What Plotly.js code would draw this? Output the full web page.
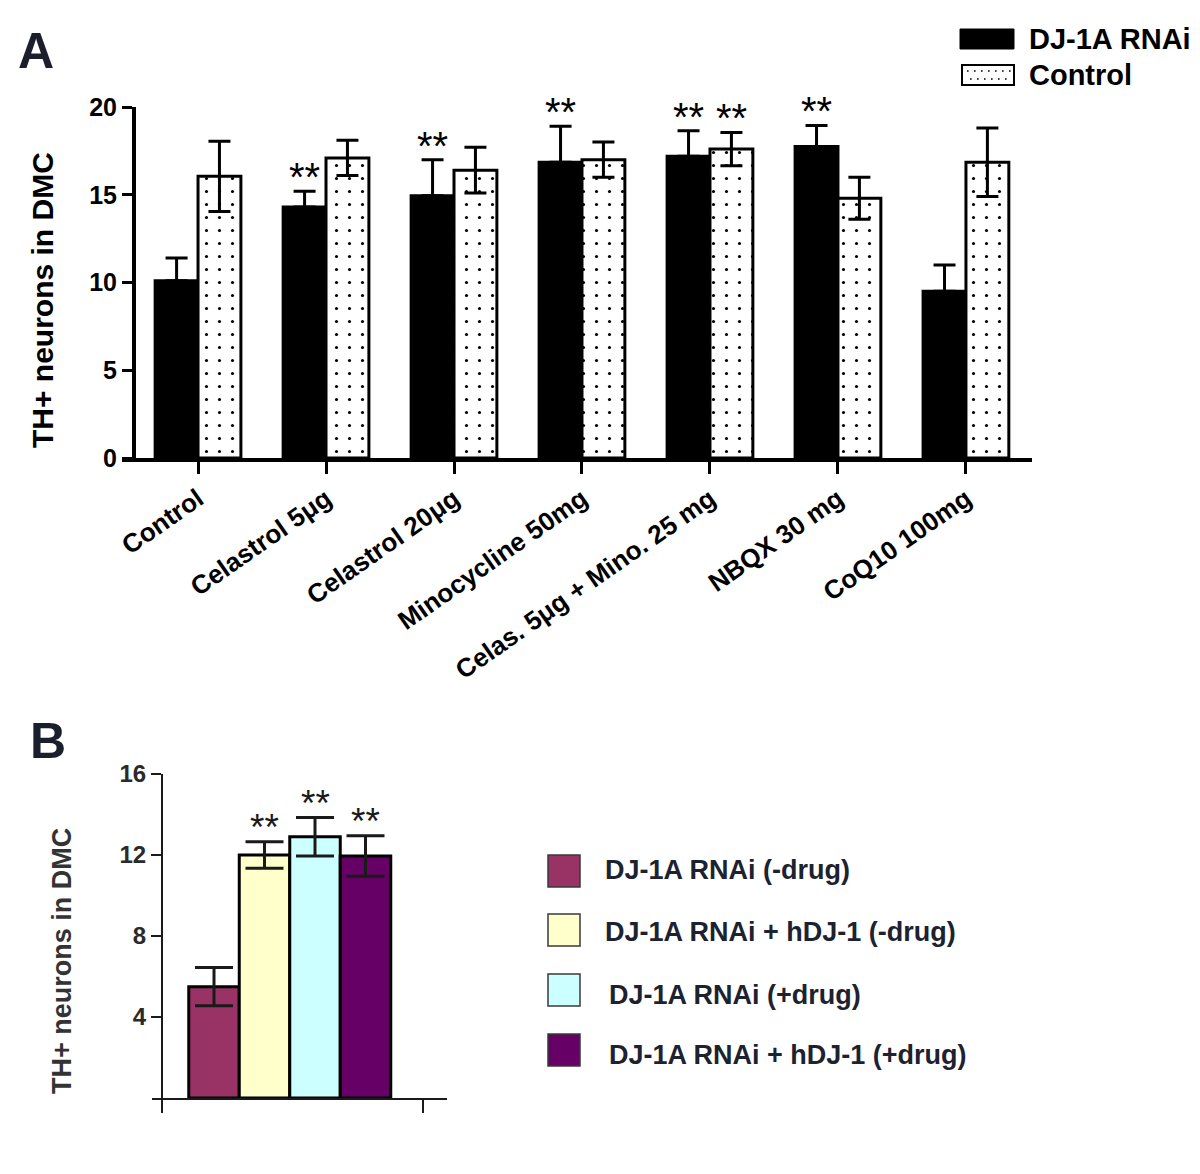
<!DOCTYPE html>
<html>
<head>
<meta charset="utf-8">
<script src="https://cdn.plot.ly/plotly-3.0.1.min.js"></script>
<style>
  html, body { margin: 0; padding: 0; background: #ffffff; }
  #chart { width: 1200px; height: 1174px; }
</style>
</head>
<body>
<div id="chart"></div>
<script>
// ---------- Panel A data ----------
const categoriesA = ['Control', 'Celastrol 5μg', 'Celastrol 20μg', 'Minocycline 50mg',
                     'Celas. 5μg + Mino. 25 mg', 'NBQX 30 mg', 'CoQ10 100mg'];
const rnaiMean    = [10.1, 14.3, 14.95, 16.85, 17.2, 17.75, 9.5];
const rnaiErr     = [1.3, 0.9, 2.05, 2.05, 1.45, 1.2, 1.5];
const controlMean = [16.05, 17.1, 16.4, 17.0, 17.6, 14.8, 16.85];
const controlErr  = [2.0, 1.0, 1.3, 1.0, 0.95, 1.2, 1.95];
const rnaiSig     = ['', '**', '**', '**', '**', '**', ''];
const controlSig  = ['', '', '', '', '**', '', ''];
const seriesNamesA = ['DJ-1A RNAi', 'Control'];
const yTitleA = 'TH+ neurons in DMC';

// ---------- Panel B data ----------
const groupsB = ['DJ-1A RNAi (-drug)', 'DJ-1A RNAi + hDJ-1 (-drug)',
                 'DJ-1A RNAi (+drug)', 'DJ-1A RNAi + hDJ-1 (+drug)'];
const meanB   = [5.5, 12.0, 12.9, 11.95];
const errB    = [0.95, 0.65, 0.95, 1.0];
const sigB    = ['', '**', '**', '**'];
const colorsB = ['#993366', '#FFFFCC', '#CCFFFF', '#660066'];
const yTitleB = 'TH+ neurons in DMC';

// ---------- helpers ----------
const W = 1200, H = 1174;
const px = v => v / W;            // paper x from pixel
const py = v => 1 - v / H;        // paper y from pixel
const FONT = 'Liberation Sans, Arial, sans-serif';

const traces = [];

traces.push({
  type: 'bar', name: seriesNamesA[0], x: categoriesA, y: rnaiMean,
  xaxis: 'x', yaxis: 'y',
  marker: { color: '#000000', line: { color: '#000000', width: 3 } },
  error_y: { type: 'data', symmetric: false, array: rnaiErr,
             arrayminus: rnaiErr.map(() => 0), color: '#000000', thickness: 3, width: 11 },
  showlegend: false, hoverinfo: 'skip'
});
traces.push({
  type: 'bar', name: seriesNamesA[1], x: categoriesA, y: controlMean,
  xaxis: 'x', yaxis: 'y',
  marker: { color: '#ffffff', line: { color: '#000000', width: 3 },
            pattern: { shape: '.', fgcolor: '#000000', bgcolor: '#ffffff', size: 13, solidity: 0.045 } },
  error_y: { type: 'data', array: controlErr, color: '#000000', thickness: 3, width: 11 },
  showlegend: false, hoverinfo: 'skip'
});

traces.push({
  type: 'bar', name: 'Panel B', x: groupsB.map((_, i) => i), y: meanB,
  xaxis: 'x2', yaxis: 'y2', width: 1.0,
  marker: { color: colorsB, line: { color: '#000000', width: 3 } },
  error_y: { type: 'data', array: errB, color: '#1a1a1a', thickness: 3, width: 19 },
  showlegend: false, hoverinfo: 'skip'
});

const annotations = [];
// Panel letters
annotations.push({ text: 'A', xref: 'paper', yref: 'paper', x: px(36), y: py(51),
  xanchor: 'center', yanchor: 'middle', showarrow: false,
  font: { family: FONT, size: 50, weight: 'bold', color: '#1a1f2b' } });
annotations.push({ text: 'B', xref: 'paper', yref: 'paper', x: px(48), y: py(741),
  xanchor: 'center', yanchor: 'middle', showarrow: false,
  font: { family: FONT, size: 50, weight: 'bold', color: '#1a1f2b' } });

// Axis titles (placed as in the figure, off-centre of the axis)
annotations.push({ text: yTitleA, xref: 'paper', yref: 'paper', x: px(42), y: py(300),
  xanchor: 'center', yanchor: 'middle', textangle: -90, showarrow: false,
  font: { family: FONT, size: 30, weight: 'bold', color: '#000000' } });
annotations.push({ text: yTitleB, xref: 'paper', yref: 'paper', x: px(62), y: py(961),
  xanchor: 'center', yanchor: 'middle', textangle: -90, showarrow: false,
  font: { family: FONT, size: 27, weight: 'bold', color: '#333333' } });

// Significance stars, panel A
const barOffsetPx = 21.5;
categoriesA.forEach((c, i) => {
  if (rnaiSig[i]) annotations.push({ text: rnaiSig[i], x: c, y: rnaiMean[i] + rnaiErr[i],
    xref: 'x', yref: 'y', xshift: -barOffsetPx, yshift: -10, xanchor: 'center', yanchor: 'bottom',
    showarrow: false, font: { family: FONT, size: 40, color: '#000000' } });
  if (controlSig[i]) annotations.push({ text: controlSig[i], x: c, y: controlMean[i] + controlErr[i],
    xref: 'x', yref: 'y', xshift: barOffsetPx, yshift: -10, xanchor: 'center', yanchor: 'bottom',
    showarrow: false, font: { family: FONT, size: 40, color: '#000000' } });
});
// Significance stars, panel B
groupsB.forEach((g, i) => {
  if (sigB[i]) annotations.push({ text: sigB[i], x: i, y: meanB[i] + errB[i],
    xref: 'x2', yref: 'y2', yshift: -8, xanchor: 'center', yanchor: 'bottom',
    showarrow: false, font: { family: FONT, size: 37, color: '#1a1a1a' } });
});

// Legend A (drawn)
const shapes = [];
const legA = [{ top: 29, name: seriesNamesA[0] }, { top: 65, name: seriesNamesA[1] }];
shapes.push({ type: 'rect', xref: 'paper', yref: 'paper', x0: px(960), x1: px(1014), y0: py(29), y1: py(49),
  fillcolor: '#000000', line: { color: '#000000', width: 1 } });
shapes.push({ type: 'rect', xref: 'paper', yref: 'paper', x0: px(962), x1: px(1014), y0: py(65), y1: py(85),
  fillcolor: '#ffffff', line: { color: '#000000', width: 2 } });
[71, 79].forEach((yy, k) => shapes.push({ type: 'line', xref: 'paper', yref: 'paper',
  x0: px(967 + k * 3), x1: px(1011), y0: py(yy), y1: py(yy),
  line: { color: '#000000', width: 1.6, dash: '1.6px,5.4px' } }));
legA.forEach(l => annotations.push({ text: l.name, xref: 'paper', yref: 'paper',
  x: px(1027), y: py(l.top + 10), xanchor: 'left', yanchor: 'middle', showarrow: false,
  font: { family: FONT, size: 29, weight: 'bold', color: '#000000' } }));

// Legend B (drawn)
const legBTop = [855, 914, 974, 1034];
const legBTextY = [870, 932, 995, 1055];
const legBTextX = [603, 603, 607, 607];
groupsB.forEach((g, i) => {
  shapes.push({ type: 'rect', xref: 'paper', yref: 'paper', x0: px(548), x1: px(580),
    y0: py(legBTop[i]), y1: py(legBTop[i] + 32), fillcolor: colorsB[i],
    line: { color: '#3a3a3a', width: 1.5 } });
  annotations.push({ text: g, xref: 'paper', yref: 'paper', x: px(legBTextX[i]), y: py(legBTextY[i]),
    xanchor: 'left', yanchor: 'middle', showarrow: false,
    font: { family: FONT, size: 27, weight: 'bold', color: '#1c2230' } });
});

const layout = {
  width: W, height: H,
  margin: { l: 0, r: 0, t: 0, b: 0 },
  paper_bgcolor: '#ffffff', plot_bgcolor: 'rgba(0,0,0,0)',
  showlegend: false,
  barmode: 'group', bargap: 0.33, bargroupgap: 0,
  font: { family: FONT, color: '#000000' },
  xaxis: {
    domain: [px(122), px(1032)], anchor: 'y', type: 'category',
    categoryorder: 'array', categoryarray: categoriesA,
    range: [-0.594, 6.516], showgrid: false, zeroline: false,
    showline: true, linecolor: '#000000', linewidth: 3.5,
    ticks: 'outside', ticklen: 12, tickwidth: 3, tickcolor: '#000000',
    tickangle: -35, tickfont: { family: FONT, size: 26, weight: 'bold', color: '#000000' }
  },
  yaxis: {
    domain: [py(458), py(107)], anchor: 'free', position: px(133),
    range: [0, 20], dtick: 5, showgrid: false, zeroline: false,
    showline: true, linecolor: '#000000', linewidth: 3.5,
    ticks: 'outside', ticklen: 10, tickwidth: 3, tickcolor: '#000000',
    tickfont: { family: FONT, size: 25, weight: 'bold', color: '#000000' }
  },
  xaxis2: {
    domain: [px(152), px(447)], anchor: 'y2', range: [-1.228, 4.614],
    showgrid: false, zeroline: false, showline: true, linecolor: '#1a1a1a', linewidth: 2,
    tickmode: 'array', tickvals: [-1.03, 4.14], ticktext: ['', ''],
    ticks: 'outside', ticklen: 13, tickwidth: 2, tickcolor: '#1a1a1a'
  },
  yaxis2: {
    domain: [py(1098), py(774)], anchor: 'free', position: px(162),
    range: [0, 16], tickmode: 'array', tickvals: [4, 8, 12, 16],
    showgrid: false, zeroline: false, showline: true, linecolor: '#1a1a1a', linewidth: 2,
    ticks: 'outside', ticklen: 10, tickwidth: 2, tickcolor: '#1a1a1a',
    tickfont: { family: FONT, size: 24, weight: 'bold', color: '#2a2a2a' }
  },
  shapes: shapes,
  annotations: annotations
};

Plotly.newPlot('chart', traces, layout, { staticPlot: true, displayModeBar: false });
</script>
</body>
</html>
